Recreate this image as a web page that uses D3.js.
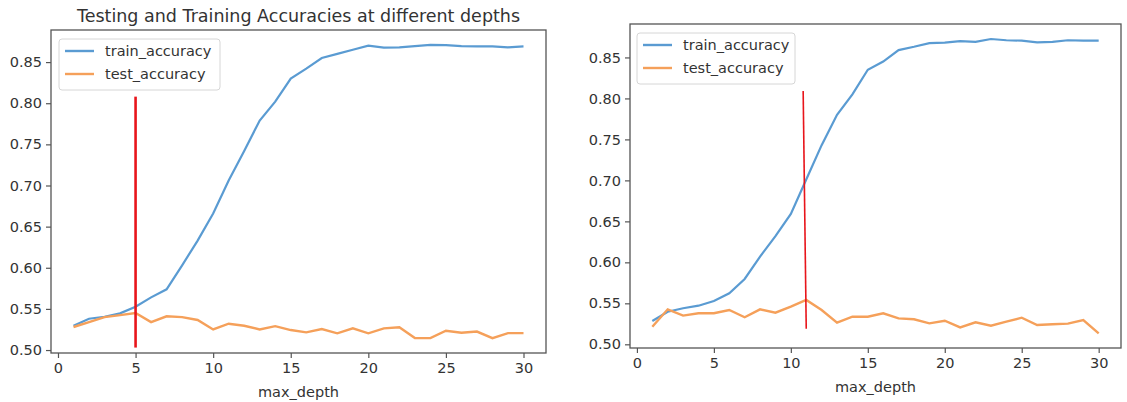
<!DOCTYPE html>
<html>
<head>
<meta charset="utf-8">
<script src="https://cdn.jsdelivr.net/npm/d3@7"></script>
<style>
  body { margin: 0; background: #fff; }
  text { font-family: "DejaVu Sans", sans-serif; fill: #333; }
</style>
</head>
<body>
<svg id="chart" width="1127" height="402"></svg>
<script>
// max_depth values on x
var depths = d3.range(1, 31);

// left panel
var leftTrain = [0.5295, 0.538, 0.5405, 0.5446, 0.5527, 0.564, 0.5738, 0.603, 0.633, 0.666,
  0.706, 0.742, 0.779, 0.802, 0.830, 0.842, 0.855, 0.860, 0.865, 0.870,
  0.8675, 0.868, 0.8695, 0.871, 0.8705, 0.8695, 0.869, 0.869, 0.868, 0.869];
var leftTest = [0.528, 0.534, 0.540, 0.5425, 0.545, 0.534, 0.541, 0.540, 0.5365, 0.525,
  0.532, 0.5295, 0.525, 0.529, 0.5243, 0.5215, 0.5255, 0.5203, 0.5264, 0.5203,
  0.5264, 0.5276, 0.5145, 0.5145, 0.5235, 0.521, 0.5225, 0.5145, 0.5205, 0.5205];
var leftMarker = [[5, 0.503], [5, 0.808]];

// right panel
var rightTrain = [0.5284, 0.5398, 0.544, 0.5471, 0.5529, 0.5623, 0.5797, 0.607, 0.632, 0.659,
  0.701, 0.743, 0.780, 0.805, 0.835, 0.845, 0.859, 0.863, 0.8675, 0.868,
  0.870, 0.869, 0.8725, 0.871, 0.8705, 0.8685, 0.869, 0.871, 0.8705, 0.8705];
var rightTest = [0.5215, 0.5427, 0.535, 0.5379, 0.5379, 0.5419, 0.533, 0.5427, 0.5386, 0.5459,
  0.5541, 0.5419, 0.5264, 0.5337, 0.5337, 0.5378, 0.5317, 0.5305, 0.5256, 0.5288,
  0.5207, 0.5269, 0.5227, 0.5276, 0.5325, 0.5236, 0.5244, 0.5252, 0.5297, 0.5134];
var rightMarker = [[10.8, 0.809], [11, 0.519]];

var yTicks = [0.50, 0.55, 0.60, 0.65, 0.70, 0.75, 0.80, 0.85];
var xTicks = [0, 5, 10, 15, 20, 25, 30];
var seriesNames = ["train_accuracy", "test_accuracy"];

var blue = "#5a9bd2", orange = "#f5a05a", red = "#e8151b";

var svg = d3.select("#chart");

function drawPanel(cfg) {
  var x = d3.scaleLinear().domain([-0.45, 31.45]).range([cfg.left, cfg.right]);
  var y = d3.scaleLinear().domain(cfg.yDomain).range([cfg.bottom, cfg.top]);
  var g = svg.append("g");

  g.append("rect")
    .attr("x", cfg.left).attr("y", cfg.top)
    .attr("width", cfg.right - cfg.left).attr("height", cfg.bottom - cfg.top)
    .attr("fill", "none").attr("stroke", "#555").attr("stroke-width", 1.3);

  var yAxis = g.append("g")
    .attr("transform", "translate(" + cfg.left + ",0)")
    .call(d3.axisLeft(y).tickValues(yTicks).tickFormat(d3.format(".2f")).tickSize(5).tickPadding(4));
  var xAxis = g.append("g")
    .attr("transform", "translate(0," + cfg.bottom + ")")
    .call(d3.axisBottom(x).tickValues(xTicks).tickSize(5).tickPadding(5));
  [yAxis, xAxis].forEach(function(a) {
    a.select(".domain").remove();
    a.selectAll("line").attr("stroke", "#555").attr("stroke-width", 1.2);
    a.selectAll("text").style("font-size", "14.5px").attr("fill", "#333")
      .style("font-family", "DejaVu Sans, sans-serif");
  });

  var line = d3.line()
    .x(function(d, i) { return x(depths[i]); })
    .y(function(d) { return y(d); });

  g.append("path").datum(cfg.train).attr("d", line)
    .attr("fill", "none").attr("stroke", blue).attr("stroke-width", 2.2);
  g.append("path").datum(cfg.test).attr("d", line)
    .attr("fill", "none").attr("stroke", orange).attr("stroke-width", 2.4);

  // red marker line
  g.append("line")
    .attr("x1", x(cfg.marker[0][0])).attr("y1", y(cfg.marker[0][1]))
    .attr("x2", x(cfg.marker[1][0])).attr("y2", y(cfg.marker[1][1]))
    .attr("stroke", red).attr("stroke-width", cfg.markerWidth);

  // legend
  var lg = g.append("g").attr("transform", "translate(" + cfg.legX + "," + cfg.legY + ")");
  lg.append("rect").attr("width", cfg.legW).attr("height", 51).attr("rx", 3)
    .attr("fill", "#fff").attr("fill-opacity", 0.8).attr("stroke", "#d6d6d6");
  seriesNames.forEach(function(name, i) {
    var cy = 12 + i * 23;
    lg.append("line").attr("x1", 6).attr("x2", 35).attr("y1", cy).attr("y2", cy)
      .attr("stroke", i == 0 ? blue : orange).attr("stroke-width", 2.4);
    lg.append("text").attr("x", 46).attr("y", cy).attr("dy", "0.35em")
      .style("font-size", "14.5px").text(name);
  });

  g.append("text")
    .attr("x", (cfg.left + cfg.right) / 2).attr("y", cfg.xLabelY)
    .attr("text-anchor", "middle").style("font-size", "14.5px").text("max_depth");

  if (cfg.title) {
    g.append("text")
      .attr("x", (cfg.left + cfg.right) / 2).attr("y", 22)
      .attr("text-anchor", "middle").style("font-size", "17.5px").text(cfg.title);
  }
}

drawPanel({
  left: 51, right: 546, top: 30, bottom: 353,
  yDomain: [0.4964, 0.889],
  train: leftTrain, test: leftTest, marker: leftMarker, markerWidth: 2.6,
  legX: 59, legY: 39, legW: 161,
  xLabelY: 397,
  title: "Testing and Training Accuracies at different depths"
});

drawPanel({
  left: 630, right: 1121, top: 24, bottom: 348,
  yDomain: [0.4955, 0.8908],
  train: rightTrain, test: rightTest, marker: rightMarker, markerWidth: 1.6,
  legX: 637, legY: 33, legW: 158,
  xLabelY: 392
});
</script>
</body>
</html>
